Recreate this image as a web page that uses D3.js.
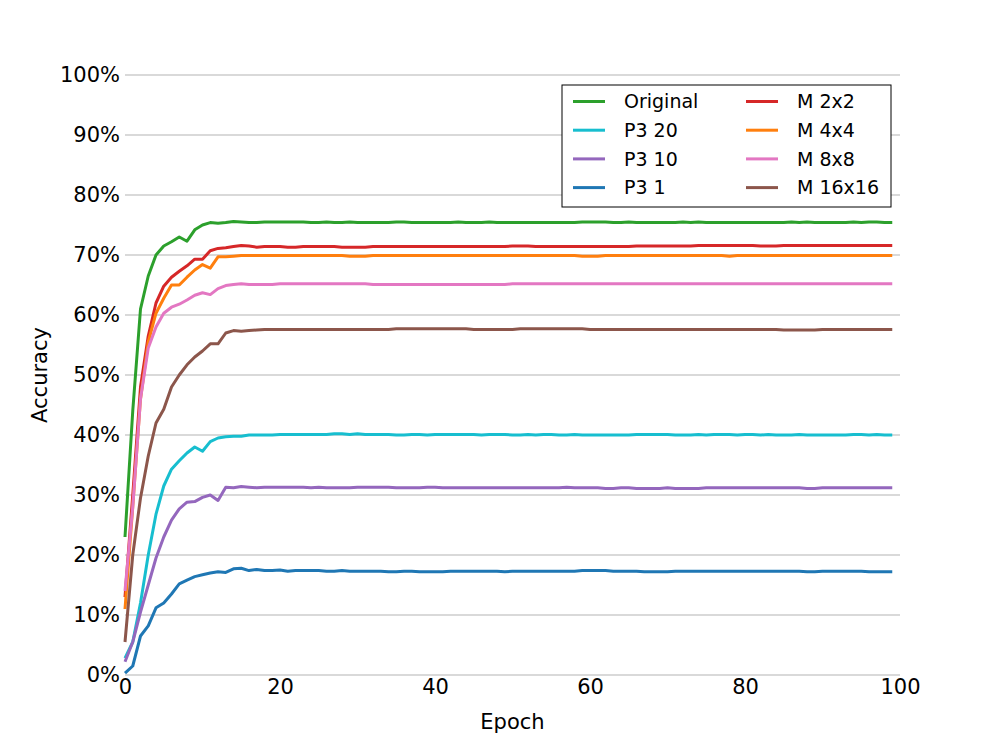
<!DOCTYPE html>
<html>
<head>
<meta charset="utf-8">
<script src="https://cdn.jsdelivr.net/npm/d3@7"></script>
<style>
  body { margin: 0; background: #fff; }
  svg { font-family: "DejaVu Sans", sans-serif; }
</style>
</head>
<body>
<div id="chart"></div>
<script>
// Accuracy per epoch
const epochs = d3.range(100);
const yTicks = [0, 10, 20, 30, 40, 50, 60, 70, 80, 90, 100];
const xTicks = [0, 20, 40, 60, 80, 100];

const original = [
  23, 44, 61, 66.5, 70, 71.5, 72.2, 73.0, 72.3, 74.2,
  75.0, 75.4, 75.3, 75.4, 75.6, 75.5, 75.4, 75.4, 75.5, 75.5,
  75.5, 75.5, 75.5, 75.5, 75.4, 75.4, 75.5, 75.4, 75.4, 75.5,
  75.4, 75.4, 75.4, 75.4, 75.4, 75.5, 75.5, 75.4, 75.4, 75.4,
  75.4, 75.4, 75.4, 75.5, 75.4, 75.4, 75.4, 75.5, 75.4, 75.4,
  75.4, 75.4, 75.4, 75.4, 75.4, 75.4, 75.4, 75.4, 75.4, 75.5,
  75.5, 75.5, 75.5, 75.4, 75.4, 75.5, 75.4, 75.4, 75.4, 75.4,
  75.4, 75.4, 75.5, 75.4, 75.5, 75.4, 75.4, 75.4, 75.4, 75.4,
  75.4, 75.4, 75.4, 75.4, 75.4, 75.4, 75.5, 75.4, 75.5, 75.4,
  75.4, 75.4, 75.4, 75.4, 75.5, 75.4, 75.5, 75.5, 75.4, 75.4
];
const p3_20 = [
  2.8, 5.5, 12, 20, 26.8, 31.5, 34.3, 35.7, 37.0, 38.0,
  37.3, 38.9, 39.5, 39.7, 39.8, 39.8, 40.0, 40.0, 40.0, 40.0,
  40.1, 40.1, 40.1, 40.1, 40.1, 40.1, 40.1, 40.2, 40.2, 40.1,
  40.2, 40.1, 40.1, 40.1, 40.1, 40.0, 40.0, 40.1, 40.1, 40.0,
  40.1, 40.1, 40.1, 40.1, 40.1, 40.1, 40.0, 40.1, 40.1, 40.1,
  40.0, 40.0, 40.1, 40.0, 40.1, 40.1, 40.0, 40.0, 40.1, 40.0,
  40.0, 40.0, 40.0, 40.0, 40.0, 40.0, 40.1, 40.1, 40.1, 40.1,
  40.1, 40.0, 40.0, 40.0, 40.1, 40.0, 40.1, 40.1, 40.1, 40.0,
  40.1, 40.1, 40.0, 40.1, 40.0, 40.0, 40.0, 40.1, 40.0, 40.0,
  40.0, 40.0, 40.0, 40.0, 40.1, 40.1, 40.0, 40.1, 40.0, 40.0
];
const p3_10 = [
  2.2, 5.5, 10.5, 15, 19.5, 23, 25.8, 27.7, 28.8, 28.9,
  29.6, 30.0, 29.1, 31.3, 31.2, 31.4, 31.3, 31.2, 31.3, 31.3,
  31.3, 31.3, 31.3, 31.3, 31.2, 31.3, 31.2, 31.2, 31.2, 31.2,
  31.3, 31.3, 31.3, 31.3, 31.3, 31.2, 31.2, 31.2, 31.2, 31.3,
  31.3, 31.2, 31.2, 31.2, 31.2, 31.2, 31.2, 31.2, 31.2, 31.2,
  31.2, 31.2, 31.2, 31.2, 31.2, 31.2, 31.2, 31.3, 31.2, 31.2,
  31.2, 31.2, 31.1, 31.1, 31.2, 31.2, 31.1, 31.1, 31.1, 31.1,
  31.2, 31.1, 31.1, 31.1, 31.1, 31.2, 31.2, 31.2, 31.2, 31.2,
  31.2, 31.2, 31.2, 31.2, 31.2, 31.2, 31.2, 31.2, 31.1, 31.1,
  31.2, 31.2, 31.2, 31.2, 31.2, 31.2, 31.2, 31.2, 31.2, 31.2
];
const p3_1 = [
  0.3, 1.5, 6.5, 8.2, 11.2, 12.0, 13.5, 15.2, 15.8, 16.4,
  16.7, 17.0, 17.2, 17.1, 17.7, 17.8, 17.4, 17.6, 17.4, 17.4,
  17.5, 17.3, 17.4, 17.4, 17.4, 17.4, 17.3, 17.3, 17.4, 17.3,
  17.3, 17.3, 17.3, 17.3, 17.2, 17.2, 17.3, 17.3, 17.2, 17.2,
  17.2, 17.2, 17.3, 17.3, 17.3, 17.3, 17.3, 17.3, 17.3, 17.2,
  17.3, 17.3, 17.3, 17.3, 17.3, 17.3, 17.3, 17.3, 17.3, 17.4,
  17.4, 17.4, 17.4, 17.3, 17.3, 17.3, 17.3, 17.2, 17.2, 17.2,
  17.2, 17.3, 17.3, 17.3, 17.3, 17.3, 17.3, 17.3, 17.3, 17.3,
  17.3, 17.3, 17.3, 17.3, 17.3, 17.3, 17.3, 17.3, 17.2, 17.2,
  17.3, 17.3, 17.3, 17.3, 17.3, 17.3, 17.2, 17.2, 17.2, 17.2
];
const m2x2 = [
  13, 30, 48, 56.5, 62, 64.8, 66.3, 67.3, 68.2, 69.3,
  69.3, 70.7, 71.1, 71.2, 71.4, 71.6, 71.5, 71.3, 71.4, 71.4,
  71.4, 71.3, 71.3, 71.4, 71.4, 71.4, 71.4, 71.4, 71.3, 71.3,
  71.3, 71.3, 71.4, 71.4, 71.4, 71.4, 71.4, 71.4, 71.4, 71.4,
  71.4, 71.4, 71.4, 71.4, 71.4, 71.4, 71.4, 71.4, 71.4, 71.4,
  71.5, 71.5, 71.5, 71.4, 71.4, 71.4, 71.4, 71.4, 71.4, 71.4,
  71.4, 71.4, 71.4, 71.4, 71.4, 71.4, 71.5, 71.5, 71.5, 71.5,
  71.5, 71.5, 71.5, 71.5, 71.6, 71.6, 71.6, 71.6, 71.6, 71.6,
  71.6, 71.6, 71.5, 71.5, 71.5, 71.6, 71.6, 71.6, 71.6, 71.6,
  71.6, 71.6, 71.6, 71.6, 71.6, 71.6, 71.6, 71.6, 71.6, 71.6
];
const m4x4 = [
  11, 28, 46, 55.5, 60.3, 62.8, 65.0, 65.0, 66.3, 67.5,
  68.4, 67.8, 69.7, 69.7, 69.8, 69.9, 69.9, 69.9, 69.9, 69.9,
  69.9, 69.9, 69.9, 69.9, 69.9, 69.9, 69.9, 69.9, 69.9, 69.8,
  69.8, 69.8, 69.9, 69.9, 69.9, 69.9, 69.9, 69.9, 69.9, 69.9,
  69.9, 69.9, 69.9, 69.9, 69.9, 69.9, 69.9, 69.9, 69.9, 69.9,
  69.9, 69.9, 69.9, 69.9, 69.9, 69.9, 69.9, 69.9, 69.9, 69.8,
  69.8, 69.8, 69.9, 69.9, 69.9, 69.9, 69.9, 69.9, 69.9, 69.9,
  69.9, 69.9, 69.9, 69.9, 69.9, 69.9, 69.9, 69.9, 69.8, 69.9,
  69.9, 69.9, 69.9, 69.9, 69.9, 69.9, 69.9, 69.9, 69.9, 69.9,
  69.9, 69.9, 69.9, 69.9, 69.9, 69.9, 69.9, 69.9, 69.9, 69.9
];
const m8x8 = [
  14, 28, 46, 54.5, 58, 60.3, 61.3, 61.8, 62.5, 63.3,
  63.7, 63.4, 64.4, 64.9, 65.1, 65.2, 65.1, 65.1, 65.1, 65.1,
  65.2, 65.2, 65.2, 65.2, 65.2, 65.2, 65.2, 65.2, 65.2, 65.2,
  65.2, 65.2, 65.1, 65.1, 65.1, 65.1, 65.1, 65.1, 65.1, 65.1,
  65.1, 65.1, 65.1, 65.1, 65.1, 65.1, 65.1, 65.1, 65.1, 65.1,
  65.2, 65.2, 65.2, 65.2, 65.2, 65.2, 65.2, 65.2, 65.2, 65.2,
  65.2, 65.2, 65.2, 65.2, 65.2, 65.2, 65.2, 65.2, 65.2, 65.2,
  65.2, 65.2, 65.2, 65.2, 65.2, 65.2, 65.2, 65.2, 65.2, 65.2,
  65.2, 65.2, 65.2, 65.2, 65.2, 65.2, 65.2, 65.2, 65.2, 65.2,
  65.2, 65.2, 65.2, 65.2, 65.2, 65.2, 65.2, 65.2, 65.2, 65.2
];
const m16x16 = [
  5.5, 20, 29.5, 36.5, 42, 44.3, 48, 50, 51.7, 53,
  54, 55.2, 55.2, 57.0, 57.4, 57.3, 57.4, 57.5, 57.6, 57.6,
  57.6, 57.6, 57.6, 57.6, 57.6, 57.6, 57.6, 57.6, 57.6, 57.6,
  57.6, 57.6, 57.6, 57.6, 57.6, 57.7, 57.7, 57.7, 57.7, 57.7,
  57.7, 57.7, 57.7, 57.7, 57.7, 57.6, 57.6, 57.6, 57.6, 57.6,
  57.6, 57.7, 57.7, 57.7, 57.7, 57.7, 57.7, 57.7, 57.7, 57.7,
  57.6, 57.6, 57.6, 57.6, 57.6, 57.6, 57.6, 57.6, 57.6, 57.6,
  57.6, 57.6, 57.6, 57.6, 57.6, 57.6, 57.6, 57.6, 57.6, 57.6,
  57.6, 57.6, 57.6, 57.6, 57.6, 57.5, 57.5, 57.5, 57.5, 57.5,
  57.6, 57.6, 57.6, 57.6, 57.6, 57.6, 57.6, 57.6, 57.6, 57.6
];

const series = [
  { name: 'Original', values: original, color: '#2ca02c' },
  { name: 'P3 20', values: p3_20, color: '#17becf' },
  { name: 'P3 10', values: p3_10, color: '#9467bd' },
  { name: 'P3 1', values: p3_1, color: '#1f77b4' },
  { name: 'M 2x2', values: m2x2, color: '#d62728' },
  { name: 'M 4x4', values: m4x4, color: '#ff7f0e' },
  { name: 'M 8x8', values: m8x8, color: '#e377c2' },
  { name: 'M 16x16', values: m16x16, color: '#8c564b' }
];

const width = 1000, height = 750;
const margin = { top: 75, right: 100, bottom: 75, left: 125 };

const svg = d3.select('#chart').append('svg')
    .attr('width', width)
    .attr('height', height);

const x = d3.scaleLinear()
    .domain([0, 100])
    .range([margin.left, width - margin.right]);

const y = d3.scaleLinear()
    .domain([0, 100])
    .range([height - margin.bottom, margin.top]);

// horizontal grid
svg.append('g')
    .selectAll('line')
    .data(yTicks)
    .join('line')
    .attr('x1', margin.left)
    .attr('x2', width - margin.right)
    .attr('y1', d => y(d))
    .attr('y2', d => y(d))
    .attr('stroke', '#cccccc')
    .attr('stroke-width', 1.5);

const yAxis = svg.append('g')
    .attr('transform', `translate(${margin.left - 5},0)`)
    .call(d3.axisLeft(y).tickValues(yTicks).tickSize(0).tickPadding(0).tickFormat(d => d + '%'));
yAxis.select('.domain').remove();
yAxis.selectAll('text')
    .attr('font-size', 21)
    .attr('font-family', '"DejaVu Sans", sans-serif')
    .attr('fill', '#000');

const xAxis = svg.append('g')
    .attr('transform', `translate(0,${height - margin.bottom + 4})`)
    .call(d3.axisBottom(x).tickValues(xTicks).tickSize(0).tickPadding(0));
xAxis.select('.domain').remove();
xAxis.selectAll('text')
    .attr('font-size', 21)
    .attr('font-family', '"DejaVu Sans", sans-serif')
    .attr('fill', '#000');

svg.append('text')
    .attr('x', (margin.left + width - margin.right) / 2)
    .attr('y', 729)
    .attr('text-anchor', 'middle')
    .attr('font-size', 21)
    .text('Epoch');

svg.append('text')
    .attr('transform', `translate(47,${(margin.top + height - margin.bottom) / 2}) rotate(-90)`)
    .attr('text-anchor', 'middle')
    .attr('font-size', 21)
    .text('Accuracy');

const line = d3.line()
    .x((d, i) => x(epochs[i]))
    .y(d => y(d));

svg.append('g')
    .selectAll('path')
    .data(series)
    .join('path')
    .attr('d', d => line(d.values))
    .attr('fill', 'none')
    .attr('stroke', d => d.color)
    .attr('stroke-width', 3)
    .attr('stroke-linejoin', 'round');

// legend, two columns of four
const legend = svg.append('g').attr('transform', 'translate(562,85)');
legend.append('rect')
    .attr('width', 329)
    .attr('height', 122)
    .attr('fill', '#fff')
    .attr('stroke', '#000')
    .attr('stroke-width', 1);

const item = legend.selectAll('g.item')
    .data(series)
    .join('g')
    .attr('class', 'item')
    .attr('transform', (d, i) => `translate(${i < 4 ? 11 : 184},${16.5 + (i % 4) * 28.7})`);

item.append('line')
    .attr('x1', 0).attr('x2', 32)
    .attr('stroke', d => d.color)
    .attr('stroke-width', 3);

item.append('text')
    .attr('x', 51)
    .attr('dy', '0.35em')
    .attr('font-size', 19)
    .text(d => d.name);
</script>
</body>
</html>
